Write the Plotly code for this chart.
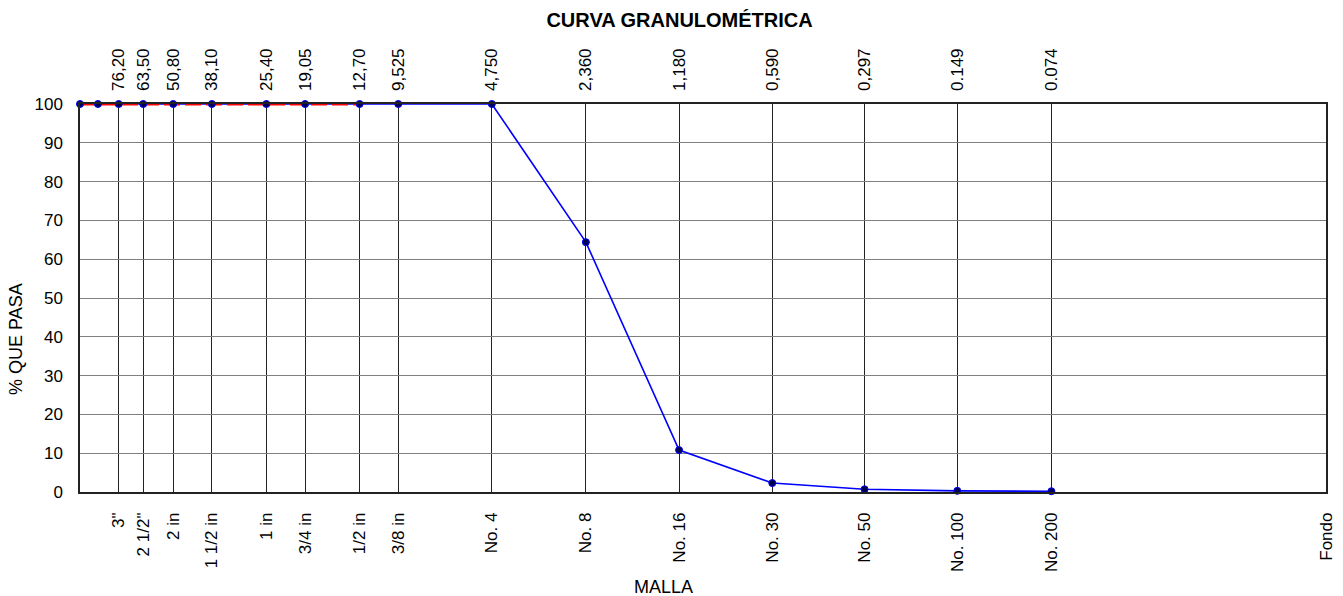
import math
import plotly.graph_objects as go

# Sieve openings (mm), names and % passing
sieve_mm = [101.6, 88.9, 76.2, 63.5, 50.8, 38.1, 25.4, 19.05, 12.7, 9.525,
            4.75, 2.36, 1.18, 0.59, 0.297, 0.149, 0.074]
pct_pasa = [100, 100, 100, 100, 100, 100, 100, 100, 100, 100,
            100, 64.4, 10.8, 2.3, 0.7, 0.3, 0.2]

tick_mm = [76.2, 63.5, 50.8, 38.1, 25.4, 19.05, 12.7, 9.525,
           4.75, 2.36, 1.18, 0.59, 0.297, 0.149, 0.074, 0.0096]
tick_malla = ['3"', '2 1/2"', '2 in', '1 1/2 in', '1 in', '3/4 in', '1/2 in', '3/8 in',
              'No. 4', 'No. 8', 'No. 16', 'No. 30', 'No. 50', 'No. 100', 'No. 200', 'Fondo']
top_mm = [76.2, 63.5, 50.8, 38.1, 25.4, 19.05, 12.7, 9.525,
          4.75, 2.36, 1.18, 0.59, 0.297, 0.149, 0.074]
top_labels = ['76,20', '63,50', '50,80', '38,10', '25,40', '19,05', '12,70', '9,525',
              '4,750', '2,360', '1,180', '0,590', '0,297', '0.149', '0.074']

# Red dashed limit line
lim_mm = [101.6, 12.7]
lim_pct = [100, 100]

x_min, x_max = 101.6, 0.0096
xr = [math.log10(x_min), math.log10(x_max)]

FONT = "Liberation Sans, Arial, sans-serif"

fig = go.Figure()
fig.add_trace(go.Scatter(x=sieve_mm, y=pct_pasa, mode="lines",
                         line=dict(color="#0000ff", width=1.6),
                         hoverinfo="skip", showlegend=False, cliponaxis=False))
fig.add_trace(go.Scatter(x=lim_mm, y=lim_pct, mode="lines",
                         line=dict(color="#ff0000", width=2.8, dash="16px,5px"),
                         hoverinfo="skip", showlegend=False, cliponaxis=False))
fig.add_trace(go.Scatter(x=sieve_mm, y=pct_pasa, mode="markers",
                         marker=dict(color="#000050", size=7,
                                     line=dict(color="#0000ff", width=1)),
                         showlegend=False, cliponaxis=False))
# invisible trace for the top axis
fig.add_trace(go.Scatter(x=top_mm, y=[None] * len(top_mm), xaxis="x2",
                         mode="markers", marker=dict(opacity=0),
                         hoverinfo="skip", showlegend=False))

fig.update_layout(
    width=1343, height=596,
    margin=dict(l=80, r=17, t=104, b=104),
    paper_bgcolor="white", plot_bgcolor="white",
    font=dict(family=FONT, size=17, color="#000000"),
    title=dict(text="<b>CURVA GRANULOMÉTRICA</b>", x=0.506, xanchor="center",
               y=0.966, yanchor="middle", font=dict(size=20, family=FONT)),
    xaxis=dict(type="log", range=xr, tickmode="array", automargin=False,
               tickvals=tick_mm, ticktext=tick_malla, tickangle=-90,
               showgrid=True, gridcolor="#222222", gridwidth=1,
               showline=True, linecolor="#222222", linewidth=1.5, mirror=True,
               ticks="", ticklabelstandoff=12, zeroline=False,
               tickfont=dict(size=17)),
    xaxis2=dict(type="log", range=xr, overlaying="x", side="top", automargin=False,
                tickmode="array", tickvals=top_mm, ticktext=top_labels,
                tickangle=-90, showgrid=False, ticks="", ticklabelstandoff=12,
                tickfont=dict(size=17), showline=False, zeroline=False),
    yaxis=dict(range=[0, 100], tickmode="array", automargin=False,
               tickvals=list(range(0, 101, 10)),
               showgrid=True, gridcolor="#808080", gridwidth=1,
               showline=True, linecolor="#222222", linewidth=1.5, mirror=True,
               ticks="", ticklabelstandoff=12, zeroline=False,
               tickfont=dict(size=17)),
    annotations=[
        dict(text="MALLA", xref="paper", yref="paper",
             x=(663 - 80) / 1246, y=(492 - 587) / 388,
             xanchor="center", yanchor="middle", showarrow=False,
             font=dict(size=18)),
        dict(text="% QUE PASA", xref="paper", yref="paper",
             x=(16 - 80) / 1246, y=(492 - 339) / 388, textangle=-90,
             xanchor="center", yanchor="middle", showarrow=False,
             font=dict(size=18)),
    ],
)

fig.write_html("out.html", config={"displayModeBar": False},
               post_script="document.body.style.margin='0px';document.body.style.overflow='hidden';")
